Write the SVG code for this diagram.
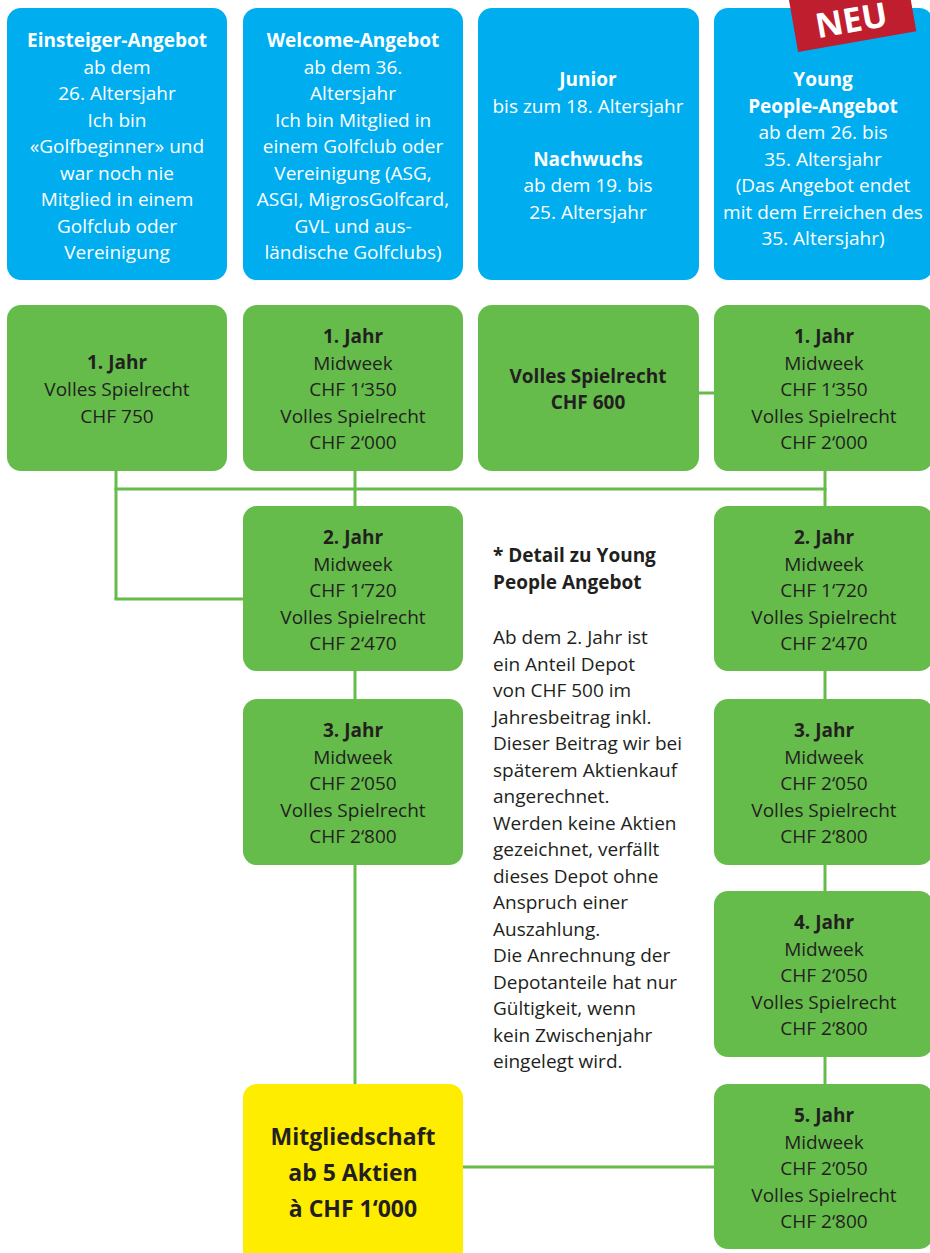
<svg xmlns="http://www.w3.org/2000/svg" width="930" height="1253" viewBox="0 0 930 1253">
<style>
.blue{fill:#00aeef}
.green{fill:#65bc4a}
.yellow{fill:#ffed00}
text{font-family:"Open Sans","Noto Sans","Liberation Sans",sans-serif;font-size:19px;text-anchor:middle}
.w{fill:#ffffff}
.d{fill:#231f20}
.b{font-weight:bold}
.l{text-anchor:start}
.big{font-size:23px;font-weight:bold}
.conn line{stroke:#65bc4a;stroke-width:3;fill:none}
</style>
<rect width="930" height="1253" fill="#ffffff"/>
<g id="connectors" class="conn">
<line x1="116" y1="471" x2="116" y2="599"/>
<line x1="114.5" y1="599" x2="243" y2="599"/>
<line x1="114.5" y1="489" x2="826.5" y2="489"/>
<line x1="355" y1="471" x2="355" y2="506"/>
<line x1="825" y1="471" x2="825" y2="506"/>
<line x1="699" y1="393" x2="714" y2="393"/>
<line x1="355" y1="671" x2="355" y2="699"/>
<line x1="355" y1="865" x2="355" y2="1084"/>
<line x1="825" y1="671" x2="825" y2="699"/>
<line x1="825" y1="865" x2="825" y2="891"/>
<line x1="825" y1="1057" x2="825" y2="1084"/>
<line x1="463" y1="1167" x2="714" y2="1167"/>
</g>
<g id="einsteiger">
<rect class="blue" x="7" y="8" width="220" height="272" rx="14"/>
<text class="w" x="117" y="47"><tspan class="b">Einsteiger-Angebot</tspan><tspan x="117" y="73.5">ab dem</tspan><tspan x="117" y="100">26. Altersjahr</tspan><tspan x="117" y="126.5">Ich bin</tspan><tspan x="117" y="153">«Golfbeginner» und</tspan><tspan x="117" y="179.5">war noch nie</tspan><tspan x="117" y="206">Mitglied in einem</tspan><tspan x="117" y="232.5">Golfclub oder</tspan><tspan x="117" y="259">Vereinigung</tspan></text>
</g>
<g id="welcome">
<rect class="blue" x="243" y="8" width="220" height="272" rx="14"/>
<text class="w" x="353" y="47"><tspan class="b">Welcome-Angebot</tspan><tspan x="353" y="73.5">ab dem 36.</tspan><tspan x="353" y="100">Altersjahr</tspan><tspan x="353" y="126.5">Ich bin Mitglied in</tspan><tspan x="353" y="153">einem Golfclub oder</tspan><tspan x="353" y="179.5">Vereinigung (ASG,</tspan><tspan x="353" y="206">ASGI, MigrosGolfcard,</tspan><tspan x="353" y="232.5">GVL und aus-</tspan><tspan x="353" y="259">ländische Golfclubs)</tspan></text>
</g>
<g id="junior">
<rect class="blue" x="478" y="8" width="221" height="272" rx="14"/>
<text class="w" x="588" y="86"><tspan class="b">Junior</tspan><tspan x="588" y="112.5">bis zum 18. Altersjahr</tspan><tspan class="b" x="588" y="165.5">Nachwuchs</tspan><tspan x="588" y="192">ab dem 19. bis</tspan><tspan x="588" y="218.5">25. Altersjahr</tspan></text>
</g>
<g id="young">
<rect class="blue" x="714" y="8" width="219" height="272" rx="14"/>
<text class="w" x="823" y="86"><tspan class="b">Young</tspan><tspan class="b" x="823" y="112.5">People-Angebot</tspan><tspan x="823" y="139">ab dem 26. bis</tspan><tspan x="823" y="165.5">35. Altersjahr</tspan><tspan x="823" y="192">(Das Angebot endet</tspan><tspan x="823" y="218.5">mit dem Erreichen des</tspan><tspan x="823" y="245">35. Altersjahr)</tspan></text>
</g>
<g id="neu" transform="translate(852,12) rotate(-10)">
<rect x="-60" y="-35" width="120" height="65" fill="#be1e2d"/>
<text x="-2" y="20" class="w b" style="font-size:34px">NEU</text>
</g>
<g id="e1">
<rect class="green" x="7" y="305" width="220" height="166" rx="14"/>
<text class="d" x="117" y="369"><tspan class="b">1. Jahr</tspan><tspan x="117" y="396">Volles Spielrecht</tspan><tspan x="117" y="423">CHF 750</tspan></text>
</g>
<g id="w1">
<rect class="green" x="243" y="305" width="220" height="166" rx="14"/>
<text class="d" x="353" y="343"><tspan class="b">1. Jahr</tspan><tspan x="353" y="369.5">Midweek</tspan><tspan x="353" y="396">CHF 1‘350</tspan><tspan x="353" y="422.5">Volles Spielrecht</tspan><tspan x="353" y="449">CHF 2‘000</tspan></text>
</g>
<g id="j1">
<rect class="green" x="478" y="305" width="221" height="166" rx="14"/>
<text class="d b" x="588" y="383"><tspan>Volles Spielrecht</tspan><tspan x="588" y="409">CHF 600</tspan></text>
</g>
<g id="y1">
<rect class="green" x="714" y="305" width="219" height="166" rx="14"/>
<text class="d" x="824" y="343"><tspan class="b">1. Jahr</tspan><tspan x="824" y="369.5">Midweek</tspan><tspan x="824" y="396">CHF 1‘350</tspan><tspan x="824" y="422.5">Volles Spielrecht</tspan><tspan x="824" y="449">CHF 2‘000</tspan></text>
</g>
<g id="w2">
<rect class="green" x="243" y="506" width="220" height="165" rx="14"/>
<text class="d" x="353" y="544"><tspan class="b">2. Jahr</tspan><tspan x="353" y="570.5">Midweek</tspan><tspan x="353" y="597">CHF 1‘720</tspan><tspan x="353" y="623.5">Volles Spielrecht</tspan><tspan x="353" y="650">CHF 2‘470</tspan></text>
</g>
<g id="y2">
<rect class="green" x="714" y="506" width="219" height="165" rx="14"/>
<text class="d" x="824" y="544"><tspan class="b">2. Jahr</tspan><tspan x="824" y="570.5">Midweek</tspan><tspan x="824" y="597">CHF 1‘720</tspan><tspan x="824" y="623.5">Volles Spielrecht</tspan><tspan x="824" y="650">CHF 2‘470</tspan></text>
</g>
<g id="w3">
<rect class="green" x="243" y="699" width="220" height="166" rx="14"/>
<text class="d" x="353" y="737"><tspan class="b">3. Jahr</tspan><tspan x="353" y="763.5">Midweek</tspan><tspan x="353" y="790">CHF 2‘050</tspan><tspan x="353" y="816.5">Volles Spielrecht</tspan><tspan x="353" y="843">CHF 2‘800</tspan></text>
</g>
<g id="y3">
<rect class="green" x="714" y="699" width="219" height="166" rx="14"/>
<text class="d" x="824" y="737"><tspan class="b">3. Jahr</tspan><tspan x="824" y="763.5">Midweek</tspan><tspan x="824" y="790">CHF 2‘050</tspan><tspan x="824" y="816.5">Volles Spielrecht</tspan><tspan x="824" y="843">CHF 2‘800</tspan></text>
</g>
<g id="y4">
<rect class="green" x="714" y="891" width="219" height="166" rx="14"/>
<text class="d" x="824" y="929"><tspan class="b">4. Jahr</tspan><tspan x="824" y="955.5">Midweek</tspan><tspan x="824" y="982">CHF 2‘050</tspan><tspan x="824" y="1008.5">Volles Spielrecht</tspan><tspan x="824" y="1035">CHF 2‘800</tspan></text>
</g>
<g id="y5">
<rect class="green" x="714" y="1084" width="219" height="165" rx="14"/>
<text class="d" x="824" y="1122"><tspan class="b">5. Jahr</tspan><tspan x="824" y="1148.5">Midweek</tspan><tspan x="824" y="1175">CHF 2‘050</tspan><tspan x="824" y="1201.5">Volles Spielrecht</tspan><tspan x="824" y="1228">CHF 2‘800</tspan></text>
</g>
<g id="mitglied">
<rect class="yellow" x="243" y="1084" width="220" height="185" rx="14"/>
<text class="d big" x="353" y="1145"><tspan>Mitgliedschaft</tspan><tspan x="353" y="1181">ab 5 Aktien</tspan><tspan x="353" y="1217">à CHF 1‘000</tspan></text>
</g>
<g id="detail">
<text class="d l b" x="493" y="562"><tspan>* Detail zu Young</tspan><tspan x="493" y="589">People Angebot</tspan></text>
<text class="d l" x="493" y="644"><tspan>Ab dem 2. Jahr ist</tspan><tspan x="493" y="670.5">ein Anteil Depot</tspan><tspan x="493" y="697">von CHF 500 im</tspan><tspan x="493" y="723.5">Jahresbeitrag inkl.</tspan><tspan x="493" y="750">Dieser Beitrag wir bei</tspan><tspan x="493" y="776.5">späterem Aktienkauf</tspan><tspan x="493" y="803">angerechnet.</tspan><tspan x="493" y="829.5">Werden keine Aktien</tspan><tspan x="493" y="856">gezeichnet, verfällt</tspan><tspan x="493" y="882.5">dieses Depot ohne</tspan><tspan x="493" y="909">Anspruch einer</tspan><tspan x="493" y="935.5">Auszahlung.</tspan><tspan x="493" y="962">Die Anrechnung der</tspan><tspan x="493" y="988.5">Depotanteile hat nur</tspan><tspan x="493" y="1015">Gültigkeit, wenn</tspan><tspan x="493" y="1041.5">kein Zwischenjahr</tspan><tspan x="493" y="1068">eingelegt wird.</tspan></text>
</g>
</svg>
